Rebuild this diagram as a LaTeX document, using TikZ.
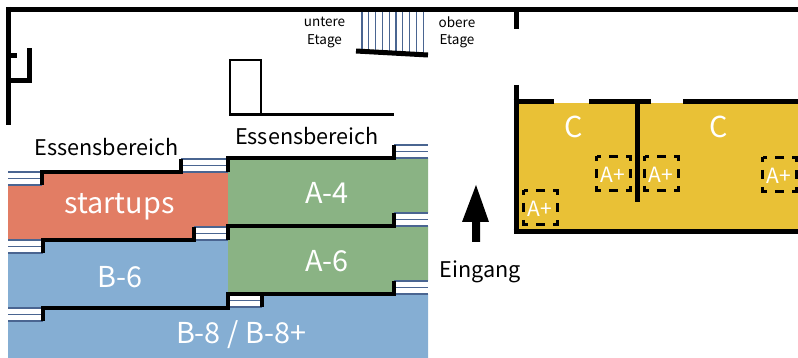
\documentclass[tikz,border=0pt]{standalone}
\usepackage{fontspec}
\setmainfont{Noto Sans CJK SC}
\definecolor{stairc}{HTML}{4A6591}
\definecolor{redc}{HTML}{E27D64}
\definecolor{bluec}{HTML}{85AED3}
\definecolor{greenc}{HTML}{8AB384}
\definecolor{yellowc}{HTML}{E9C136}
\newcommand{\stairsH}[4]{% x1,y1,x2,y2
  \fill[white] (#1,#2) rectangle (#3,#4);
  \draw[stairline] (#1,#2) -- (#3,#2);
  \draw[stairline] (#1,{(#2+#4)/2}) -- (#3,{(#2+#4)/2});
  \draw[stairline] (#1,#4) -- (#3,#4);
}
\tikzset{
  wall/.style={line width=5pt,line cap=butt},
  thinwall/.style={line width=2.8pt},
  edge/.style={line width=3.1pt,line join=miter},
  stairline/.style={line width=1.2pt,stairc},
  bigw/.style={text=white,font=\fontsize{28.8}{28.8}\selectfont,inner sep=0pt},
  midlabel/.style={text=black,font=\fontsize{21.6}{21.6}\selectfont,inner sep=0pt},
  smallb/.style={text=black,font=\fontsize{13.5}{17.5}\selectfont,inner sep=0pt,align=center},
  seat/.style={draw=black,dash pattern=on 9pt off 8pt,dash phase=4.5pt,line width=2.8pt},
  seatlabel/.style={text=white,font=\fontsize{21}{21}\selectfont,inner sep=0pt},
}
\begin{document}
\begin{tikzpicture}[x=1pt,y=-1pt]
\useasboundingbox (0,0) rectangle (798,358);
% coloured areas
\fill[yellowc] (517,103) rectangle (798,232);
\fill[bluec] (8,253) -- (43,253) -- (43,240) -- (229,240) -- (229,294) -- (428,294) -- (428,358) -- (8,358) -- cycle;
\fill[redc] (8,185) -- (42,185) -- (42,172) -- (229,172) -- (229,227) -- (194,227) -- (194,240) -- (8,240) -- cycle;
\fill[greenc] (228,158) -- (428,158) -- (428,213) -- (394,213) -- (394,226) -- (228,226) -- cycle;
\fill[greenc] (228,226) -- (428,226) -- (428,281) -- (394,281) -- (394,294) -- (228,294) -- cycle;
% stairs
\stairsH{8}{172}{42}{185}
\stairsH{181}{159}{228}{172}
\stairsH{194}{227}{228}{240}
\stairsH{8}{240}{43}{253}
\stairsH{8}{308}{43}{321}
\stairsH{228}{294}{262}{307}
\stairsH{394}{145}{428}{158}
\stairsH{394}{213}{428}{226}
\stairsH{394}{281}{428}{294}
% edges
\draw[edge] (42,185) -- (42,172) -- (181,172) -- (181,159);
\draw[edge] (228,172) -- (228,158) -- (394,158) -- (394,145);
\draw[edge] (43,253) -- (43,240) -- (194,240) -- (194,227);
\draw[edge] (228,240) -- (228,226) -- (394,226) -- (394,213);
\draw[edge] (43,321) -- (43,308) -- (228,308) -- (228,294) -- (394,294) -- (394,281);
\draw[edge] (262,307) -- (262,294);
% top walls
\draw[wall] (6,9.5) -- (798,9.5);
\draw[wall] (8.5,7) -- (8.5,125);
\draw[wall] (6,56) -- (17,56);
\draw[wall] (6,80.5) -- (29.5,80.5);
\draw[wall] (29.5,83) -- (29.5,48);
\draw[wall] (516.5,12) -- (516.5,29);
\draw[thinwall] (230,60) rectangle (261,114.5);
\draw[thinwall] (261,114.5) -- (394,114.5);
% upper stairs
\foreach \i in {0,...,9} {\draw[stairline] ({362+\i*6.8},12) -- ({362+\i*6.8},52);}
\draw[wall] (356,51) -- (428,55);
% right room
\draw[wall] (516,85) -- (516,234);
\draw[wall] (513.5,231.5) -- (798,231.5);
\draw[wall] (513.5,101.5) -- (554,101.5);
\draw[wall] (589,101.5) -- (651,101.5);
\draw[wall] (683,101.5) -- (798,101.5);
\draw[wall] (637,101) -- (637,202);
% seats
\draw[seat] (523.5,190.5) rectangle (557.5,224.5);
\draw[seat] (596.5,156.5) rectangle (630.5,190.5);
\draw[seat] (644.5,156.5) rectangle (678.5,190.5);
\draw[seat] (762.5,157.5) rectangle (796.5,191.5);
% arrow
\fill (476,185) -- (489,222) -- (480,222) -- (480,242) -- (472,242) -- (472,222) -- (462,222) -- cycle;
% labels
\node[midlabel] (essen1) at (106.5,147) {Essensbereich};
\node[midlabel] (essen2) at (307,136) {Essensbereich};
\node[midlabel] (eingang) at (480,272) {Eingang};
\node[smallb] (untere) at (324.5,32.5) {untere\\Etage};
\node[smallb] (obere) at (457,32.5) {obere\\Etage};
\node[bigw] (startups) at (119.5,207) {startups};
\node[bigw] (b6) at (120,277) {B-6};
\node[bigw] (b8) at (241,335) {B-8 / B-8+};
\node[bigw] (a4) at (327,193) {A-4};
\node[bigw] (a6) at (327,261) {A-6};
\node[bigw] (c1) at (574,127) {C};
\node[bigw] (c2) at (719,127) {C};
\node[seatlabel] (ap1) at (540,209) {A+};
\node[seatlabel] (ap2) at (613,175) {A+};
\node[seatlabel] (ap3) at (661,175) {A+};
\node[seatlabel] (ap4) at (779,176) {A+};
\end{tikzpicture}
\end{document}
